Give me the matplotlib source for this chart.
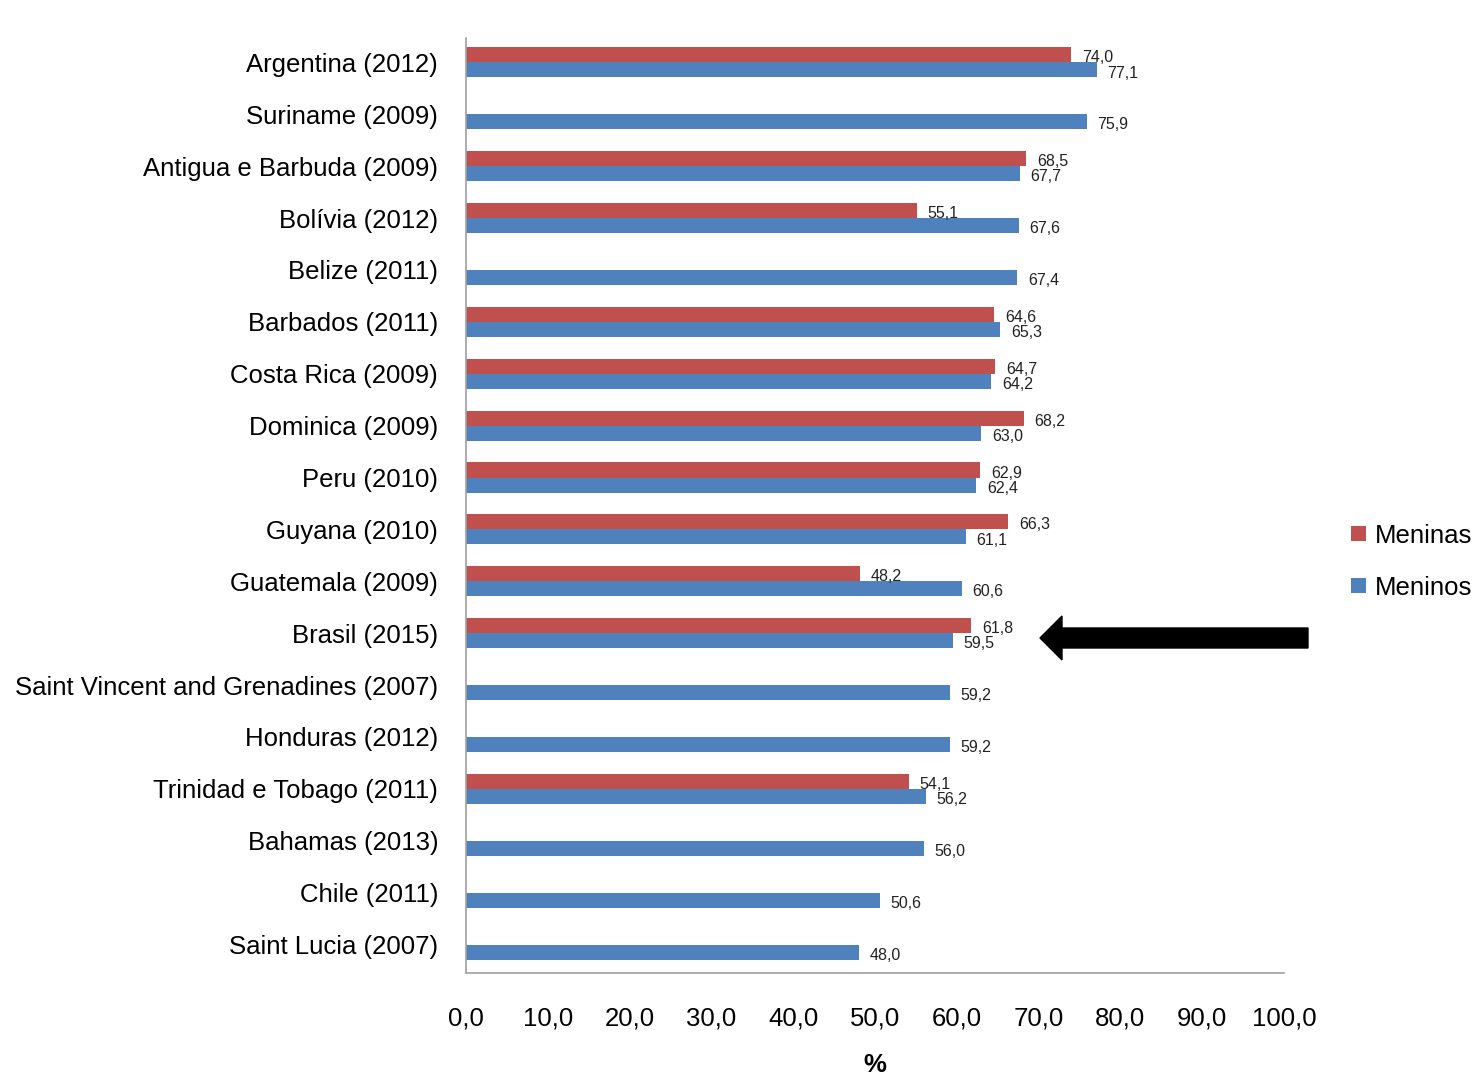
import numpy as np
import matplotlib
matplotlib.use("Agg")
import matplotlib.pyplot as plt
from matplotlib.patches import FancyArrow

plt.rcParams['font.family'] = ['Liberation Sans', 'DejaVu Sans']

# data
paises = ["Argentina (2012)", "Suriname (2009)", "Antigua e Barbuda (2009)", "Bolívia (2012)",
          "Belize (2011)", "Barbados (2011)", "Costa Rica (2009)", "Dominica (2009)",
          "Peru (2010)", "Guyana (2010)", "Guatemala (2009)", "Brasil (2015)",
          "Saint Vincent and Grenadines (2007)", "Honduras (2012)", "Trinidad e Tobago (2011)",
          "Bahamas (2013)", "Chile (2011)", "Saint Lucia (2007)"]
meninas = [74.0, None, 68.5, 55.1, None, 64.6, 64.7, 68.2, 62.9, 66.3, 48.2, 61.8,
           None, None, 54.1, None, None, None]
meninos = [77.1, 75.9, 67.7, 67.6, 67.4, 65.3, 64.2, 63.0, 62.4, 61.1, 60.6, 59.5,
           59.2, 59.2, 56.2, 56.0, 50.6, 48.0]
xticks = np.arange(0, 101, 10)

cor_meninas = '#C0504D'
cor_meninos = '#4F81BD'

fig = plt.figure(figsize=(14.77, 10.74), dpi=100)
ax = fig.add_axes([0.3155, 0.094, 0.5538, 0.8706])

y = np.arange(len(paises))
h = 0.29
red_vals = np.array([np.nan if v is None else v for v in meninas])
ax.barh(y - h / 2, red_vals, height=h, color=cor_meninas, label='Meninas')
ax.barh(y + h / 2, meninos, height=h, color=cor_meninos, label='Meninos')

for i, v in enumerate(meninas):
    if v is not None:
        ax.text(v + 1.3, i - h / 2 + 0.06, f"{v:.1f}".replace('.', ','),
                va='center', ha='left', fontsize=11.5, color='#222222')
for i, v in enumerate(meninos):
    ax.text(v + 1.3, i + h / 2 + 0.06, f"{v:.1f}".replace('.', ','),
            va='center', ha='left', fontsize=11.5, color='#222222')

ax.set_xlim(0, 100)
ax.set_ylim(len(paises) - 0.45, -0.47)
ax.set_yticks(y)
ax.set_yticklabels(paises, fontsize=18.5)
ax.set_xticks(xticks)
ax.set_xticklabels([f"{t:.1f}".replace('.', ',') for t in xticks], fontsize=18.5)
ax.tick_params(axis='both', length=0)
ax.tick_params(axis='x', pad=24)
ax.tick_params(axis='y', pad=20)
ax.set_xlabel('%', fontsize=18.5, fontweight='bold', labelpad=16)

for s in ['top', 'right']:
    ax.spines[s].set_visible(False)
for s in ['left', 'bottom']:
    ax.spines[s].set_color('#A0A0A0')
    ax.spines[s].set_linewidth(1.2)

ax.legend(loc='center left', bbox_to_anchor=(0.915, 0.477), bbox_transform=fig.transFigure,
          frameon=False, fontsize=18.5, handlelength=0.55, handleheight=0.55,
          handletextpad=0.35, labelspacing=1.1, borderaxespad=0, borderpad=0)

# arrow pointing to Brasil
fig.add_artist(FancyArrow(1308 / 1477, 1 - 638 / 1074, -(1308 - 1040) / 1477, 0,
                          width=20 / 1074, head_width=44 / 1074, head_length=22 / 1477,
                          length_includes_head=True, color='black',
                          transform=fig.transFigure))

fig.savefig('out.png', dpi=100, facecolor='white')
